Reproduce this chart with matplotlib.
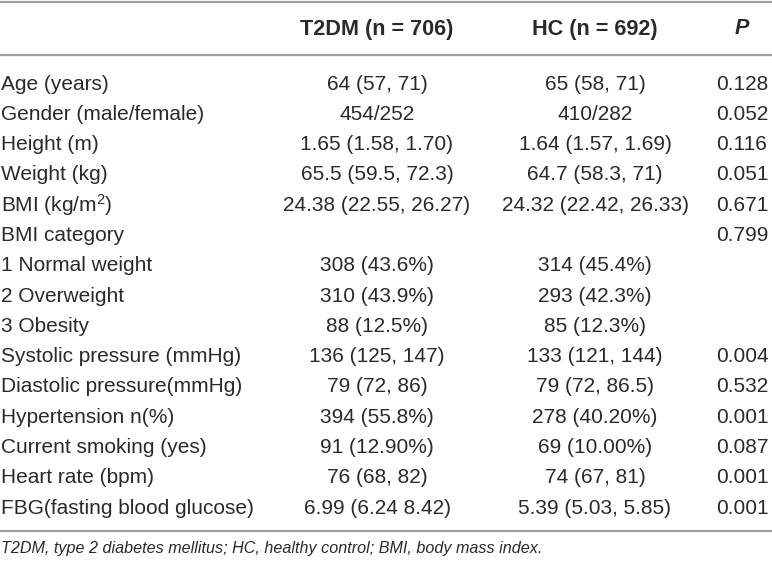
import matplotlib

matplotlib.use("Agg")

import matplotlib.pyplot as plt

plt.rcParams["font.family"] = ["Liberation Sans", "DejaVu Sans"]
plt.rcParams["mathtext.fontset"] = "custom"
plt.rcParams["mathtext.rm"] = "Liberation Sans"
plt.rcParams["mathtext.it"] = "Liberation Sans:italic"

headers = ["", "T2DM (n = 706)", "HC (n = 692)", "P"]

row_labels = [
    "Age (years)",
    "Gender (male/female)",
    "Height (m)",
    "Weight (kg)",
    r"BMI (kg/m$^{2}$)",
    "BMI category",
    "1 Normal weight",
    "2 Overweight",
    "3 Obesity",
    "Systolic pressure (mmHg)",
    "Diastolic pressure(mmHg)",
    "Hypertension n(%)",
    "Current smoking (yes)",
    "Heart rate (bpm)",
    "FBG(fasting blood glucose)",
]

t2dm = [
    "64 (57, 71)",
    "454/252",
    "1.65 (1.58, 1.70)",
    "65.5 (59.5, 72.3)",
    "24.38 (22.55, 26.27)",
    "",
    "308 (43.6%)",
    "310 (43.9%)",
    "88 (12.5%)",
    "136 (125, 147)",
    "79 (72, 86)",
    "394 (55.8%)",
    "91 (12.90%)",
    "76 (68, 82)",
    "6.99 (6.24 8.42)",
]

hc = [
    "65 (58, 71)",
    "410/282",
    "1.64 (1.57, 1.69)",
    "64.7 (58.3, 71)",
    "24.32 (22.42, 26.33)",
    "",
    "314 (45.4%)",
    "293 (42.3%)",
    "85 (12.3%)",
    "133 (121, 144)",
    "79 (72, 86.5)",
    "278 (40.20%)",
    "69 (10.00%)",
    "74 (67, 81)",
    "5.39 (5.03, 5.85)",
]

p_values = [
    "0.128", "0.052", "0.116", "0.051", "0.671", "0.799", "", "", "",
    "0.004", "0.532", "0.001", "0.087", "0.001", "0.001",
]

footnote = "T2DM, type 2 diabetes mellitus; HC, healthy control; BMI, body mass index."

W, H = 772, 564
fig = plt.figure(figsize=(W / 100, H / 100), dpi=100)
ax = fig.add_axes([0, 0, 1, 1])
ax.set_xlim(0, W)
ax.set_ylim(H, 0)
ax.axis("off")

col_x = [1, 377, 595, 742]
fs = 15.0
text_color = "#2a2a2a"
line_color = "#a0a0a0"

# header
ax.text(col_x[1], 29, headers[1], ha="center", va="center", fontsize=15.6, weight="bold", color=text_color)
ax.text(col_x[2], 29, headers[2], ha="center", va="center", fontsize=15.6, weight="bold", color=text_color)
ax.text(col_x[3], 29, headers[3], ha="center", va="center", fontsize=15.6, weight="bold", style="italic", color=text_color)

# rules
for y in (2, 55, 531):
    ax.hlines(y, 0, W, color=line_color, linewidth=1.6)

y0, dy = 84, 30.3
for i, (lab, a, b, p) in enumerate(zip(row_labels, t2dm, hc, p_values)):
    y = y0 + i * dy
    ax.text(col_x[0], y, lab, ha="left", va="center", fontsize=fs, color=text_color)
    ax.text(col_x[1], y, a, ha="center", va="center", fontsize=fs, color=text_color)
    ax.text(col_x[2], y, b, ha="center", va="center", fontsize=fs, color=text_color)
    ax.text(col_x[3], y, p, ha="center", va="center", fontsize=fs, color=text_color)

ax.text(1, 549, footnote, ha="left", va="center", fontsize=11.6, style="italic", color=text_color)

fig.savefig("out.png", dpi=100)
plt.close(fig)
